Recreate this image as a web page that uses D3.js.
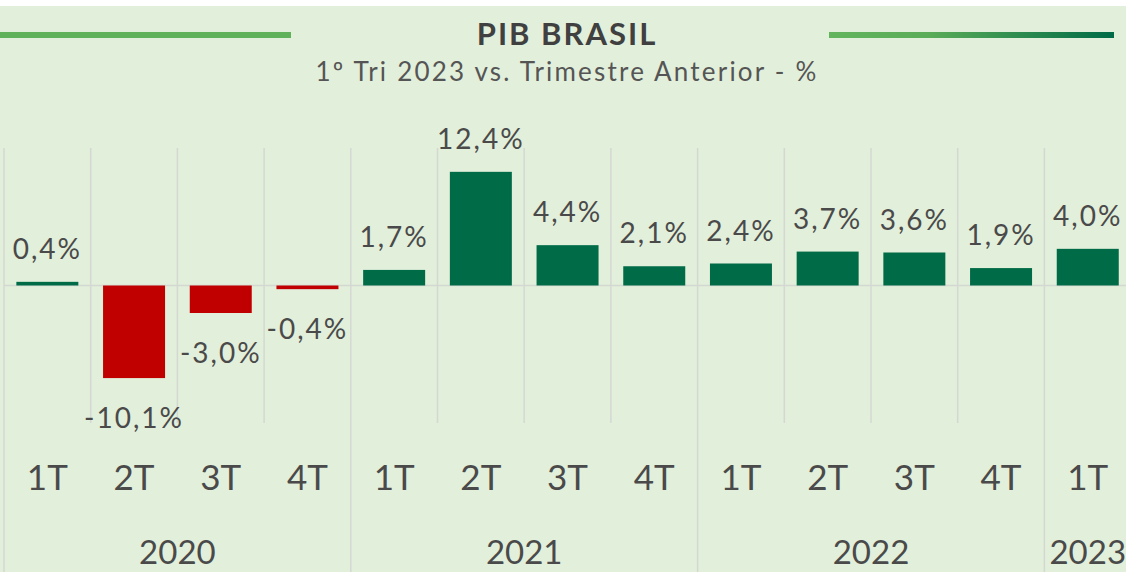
<!DOCTYPE html>
<html>
<head>
<meta charset="utf-8">
<title>PIB Brasil</title>
<script src="https://cdn.jsdelivr.net/npm/d3@7"></script>
<style>
  body { margin: 0; background: #fff; }
  text { font-family: Lato, "Open Sans", sans-serif; fill: #4a4a4a; }
  .grid { stroke: #d4d8d2; stroke-width: 1.5px; }
  .axis-q .domain { display: none; }
</style>
</head>
<body>
<div id="chart"></div>
<script>
// dados
var quarters = ["1T", "2T", "3T", "4T", "1T", "2T", "3T", "4T", "1T", "2T", "3T", "4T", "1T"];
var values = [0.4, -10.1, -3.0, -0.4, 1.7, 12.4, 4.4, 2.1, 2.4, 3.7, 3.6, 1.9, 4.0];
var years = ["2020", "2021", "2022", "2023"];
var yearCounts = [4, 4, 4, 1];

var width = 1126, height = 572;
var plotTop = 148, plotBottom = 423;

var svg = d3.select("#chart").append("svg")
    .attr("width", width)
    .attr("height", height);

var defs = svg.append("defs");
var grad = defs.append("linearGradient").attr("id", "lineGrad");
grad.append("stop").attr("offset", "0%").attr("stop-color", "#62b45d");
grad.append("stop").attr("offset", "35%").attr("stop-color", "#5aac58");
grad.append("stop").attr("offset", "100%").attr("stop-color", "#006b47");

svg.append("rect")
    .attr("x", 0).attr("y", 6)
    .attr("width", width).attr("height", height - 6)
    .attr("fill", "#e2efda");

// titulo
svg.append("rect")
    .attr("x", 0).attr("y", 32).attr("width", 291).attr("height", 6)
    .attr("fill", "#5fb25a");
svg.append("rect")
    .attr("x", 829).attr("y", 32).attr("width", 285).attr("height", 6)
    .attr("fill", "url(#lineGrad)");

svg.append("text")
    .attr("x", 567).attr("y", 45)
    .attr("text-anchor", "middle")
    .style("font-size", "31px")
    .style("font-weight", "bold")
    .style("letter-spacing", "2px")
    .style("fill", "#404040")
    .text("PIB BRASIL");

svg.append("text")
    .attr("x", 567).attr("y", 81)
    .attr("text-anchor", "middle")
    .style("font-size", "26px")
    .style("letter-spacing", "2.2px")
    .style("fill", "#555")
    .text("1º Tri 2023 vs. Trimestre Anterior - %");

// escalas
var x = d3.scaleBand()
    .domain(d3.range(values.length))
    .range([4, 4 + 86.7 * values.length])
    .paddingInner(0.285)
    .paddingOuter(0.1425);

var y = d3.scaleLinear()
    .domain([-15, 15])
    .range([plotBottom, plotTop]);

var step = x.step();
var x0 = 4;

// linhas de grade verticais
var yearStarts = [0];
yearCounts.forEach(function(c, i) { yearStarts.push(yearStarts[i] + c); });

svg.selectAll(".vgrid")
    .data(d3.range(values.length + 1))
  .enter().append("line")
    .attr("class", "grid")
    .attr("x1", function(i) { return x0 + i * step; })
    .attr("x2", function(i) { return x0 + i * step; })
    .attr("y1", plotTop)
    .attr("y2", function(i) { return yearStarts.indexOf(i) >= 0 ? height : plotBottom; });

// linha do zero
svg.append("line")
    .attr("class", "grid")
    .attr("x1", x0).attr("x2", width)
    .attr("y1", y(0)).attr("y2", y(0));

// barras
svg.selectAll(".bar")
    .data(values)
  .enter().append("rect")
    .attr("class", "bar")
    .attr("x", function(d, i) { return x(i); })
    .attr("width", x.bandwidth())
    .attr("y", function(d) { return y(Math.max(0, d)); })
    .attr("height", function(d) { return Math.abs(y(d) - y(0)); })
    .attr("fill", function(d) { return d < 0 ? "#c00000" : "#006b47"; });

// rotulos
var fmt = function(d) { return d3.format(".1f")(d).replace(".", ",").replace("−", "-") + "%"; };
svg.selectAll(".lbl")
    .data(values)
  .enter().append("text")
    .attr("class", "lbl")
    .attr("x", function(d, i) { return x(i) + x.bandwidth() / 2; })
    .attr("y", function(d) { return d < 0 ? y(d) + 50 : y(d) - 23; })
    .attr("text-anchor", "middle")
    .style("font-size", "28px")
    .style("letter-spacing", "2px")
    .text(fmt);

// eixo dos trimestres
var axis = d3.axisBottom(x)
    .tickSize(0)
    .tickFormat(function(i) { return quarters[i]; });

svg.append("g")
    .attr("class", "axis-q")
    .attr("transform", "translate(0," + 464 + ")")
    .call(axis)
    .call(function(g) {
      g.selectAll("text")
        .attr("dy", 0).attr("y", 26)
        .style("font-size", "35px")
        .style("font-family", "Lato, sans-serif")
        .style("fill", "#4a4a4a");
    });

// anos
svg.selectAll(".year")
    .data(years)
  .enter().append("text")
    .attr("class", "year")
    .attr("x", function(d, i) { return x0 + (yearStarts[i] + yearCounts[i] / 2) * step; })
    .attr("y", 564)
    .attr("text-anchor", "middle")
    .style("font-size", "33px")
    .text(function(d) { return d; });
</script>
</body>
</html>
